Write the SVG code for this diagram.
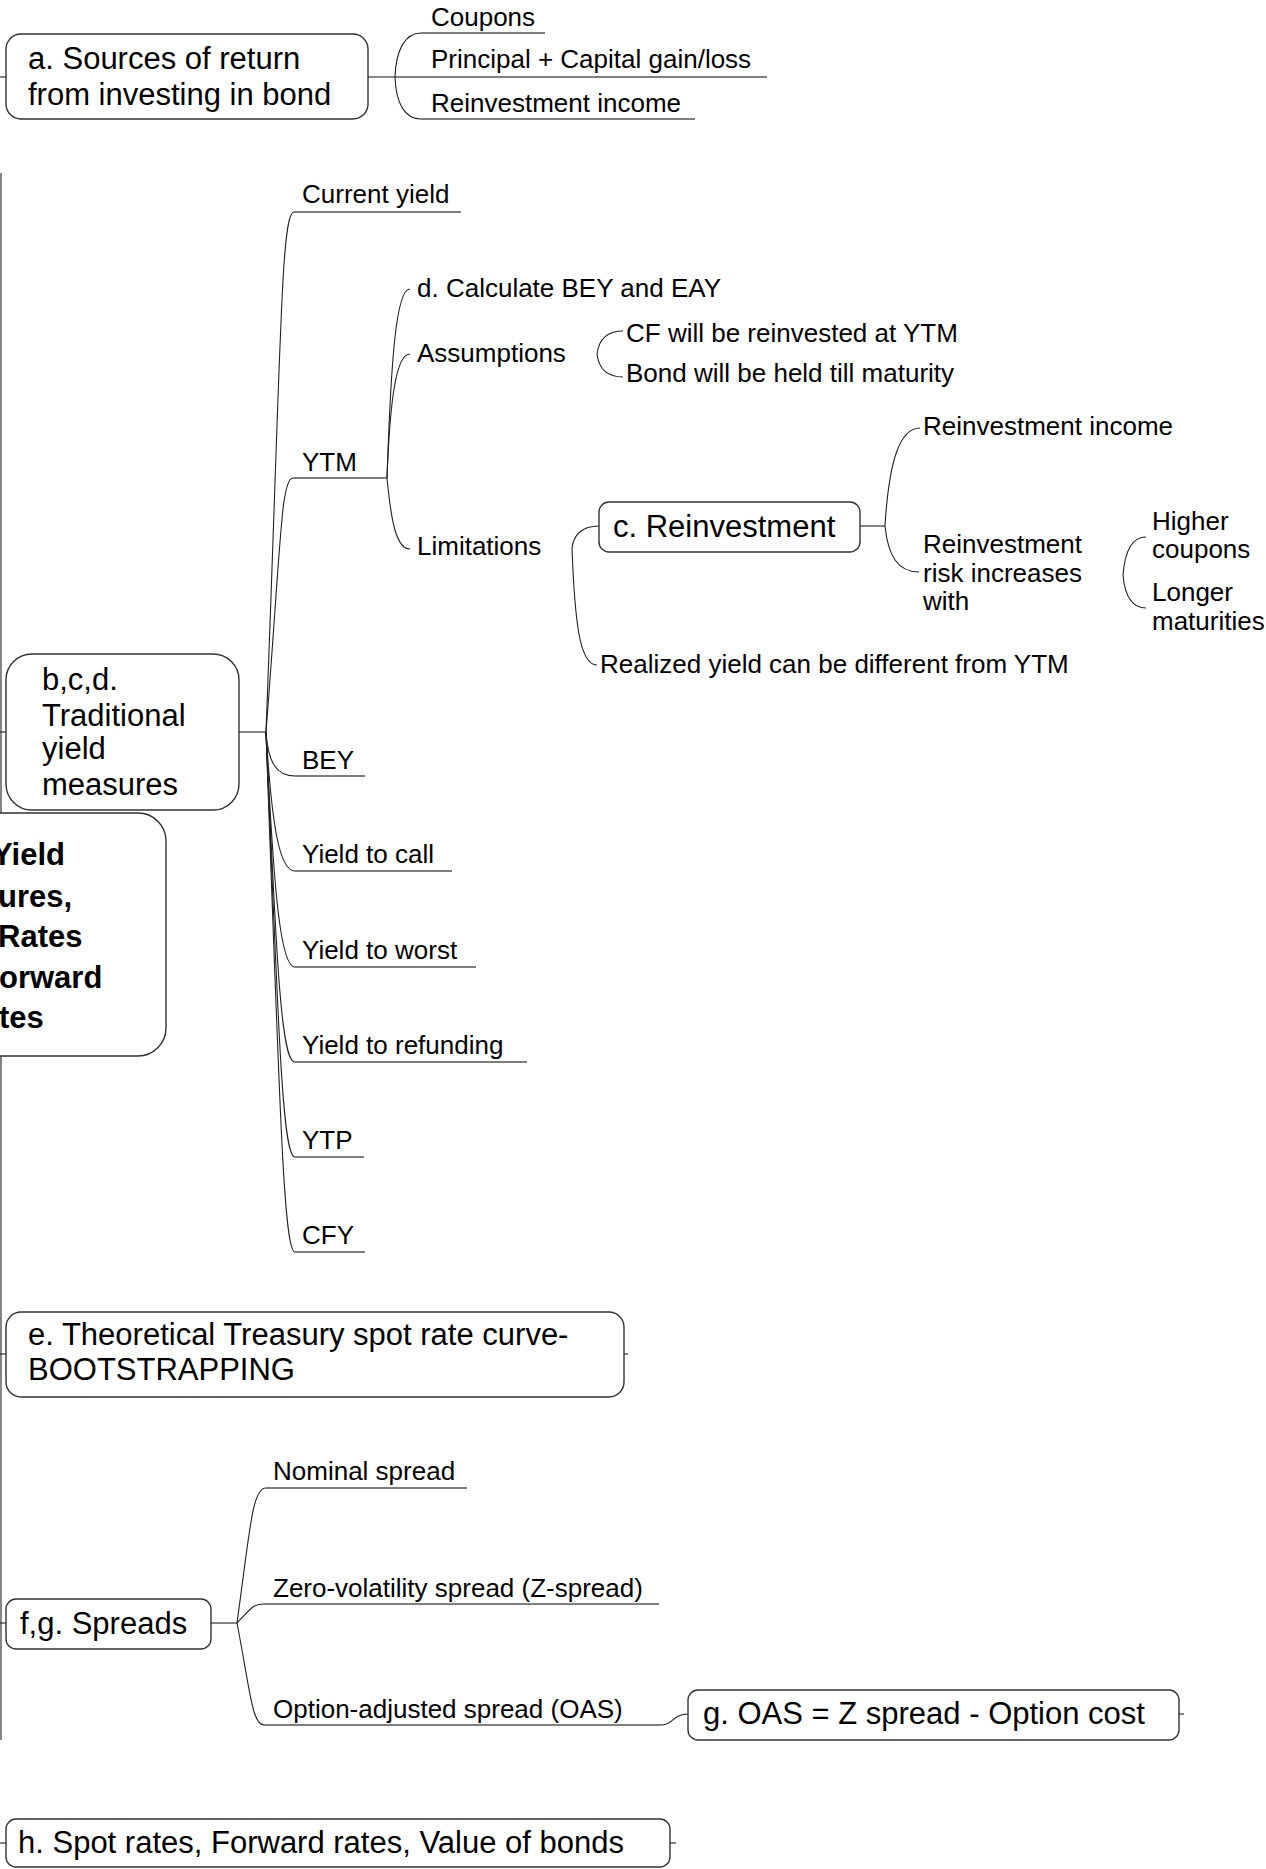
<svg xmlns="http://www.w3.org/2000/svg" width="1266" height="1869" viewBox="0 0 1266 1869">
<style>
  .box { fill: #ffffff; stroke: #333333; stroke-width: 1.4; }
  .ln { fill: none; stroke: #222222; stroke-width: 1.1; }
  .ul { fill: none; stroke: #555555; stroke-width: 1.4; }
  .t { font-family: "Liberation Sans", Arial, sans-serif; font-size: 26px; fill: #000000; }
  .n { font-family: "Liberation Sans", Arial, sans-serif; font-size: 31px; fill: #000000; }
  .c { font-family: "Liberation Sans", Arial, sans-serif; font-size: 31px; font-weight: bold; fill: #000000; }
</style>
<rect x="0" y="0" width="1266" height="1869" fill="#ffffff"/>

<g id="connectors">
  <!-- trunk from central topic -->
  <path class="ln" d="M1,173 L1,813"/>
  <path class="ln" d="M1,1056 L1,1740"/>
  <path class="ln" d="M0,77 L6,77"/>
  <path class="ln" d="M0,732 L6,732"/>
  <path class="ln" d="M0,1354 L6,1354"/>
  <path class="ln" d="M0,1623 L6,1623"/>
  <path class="ln" d="M0,1843 L6,1843"/>

  <!-- a. Sources of return -->
  <path class="ln" d="M368,77 L395,77"/>
  <path class="ln" d="M395,77 C396,50 405,33 421,33"/>
  <path class="ul" d="M421,33 L545,33"/>
  <path class="ul" d="M395,77 L767,77"/>
  <path class="ln" d="M395,77 C396,104 405,119 421,119"/>
  <path class="ul" d="M421,119 L695,119"/>

  <!-- b,c,d. Traditional yield measures -->
  <path class="ln" d="M239,732 L266,732"/>
  <path class="ln" d="M266,732 C281,342 281,212 294,212"/>
  <path class="ul" d="M294,212 L461,212"/>
  <path class="ln" d="M266,732 C281,541 281,478 293,478"/>
  <path class="ul" d="M293,478 L387,478"/>
  <path class="ln" d="M266,732 C268,762 276,776 295,776"/>
  <path class="ul" d="M295,776 L365,776"/>
  <path class="ln" d="M266,732 C272,830 280,871 295,871"/>
  <path class="ul" d="M295,871 L452,871"/>
  <path class="ln" d="M266,732 C274,900 281,967 295,967"/>
  <path class="ul" d="M295,967 L476,967"/>
  <path class="ln" d="M266,732 C277,980 282,1062 295,1062"/>
  <path class="ul" d="M295,1062 L527,1062"/>
  <path class="ln" d="M266,732 C279,1050 283,1157 295,1157"/>
  <path class="ul" d="M295,1157 L364,1157"/>
  <path class="ln" d="M266,732 C280,1120 284,1252 295,1252"/>
  <path class="ul" d="M295,1252 L365,1252"/>

  <!-- YTM children -->
  <path class="ln" d="M387,478 C391,360 396,289 410,289"/>
  <path class="ln" d="M387,478 C390,400 396,354 410,354"/>
  <path class="ln" d="M387,478 C391,520 396,549 410,549"/>

  <!-- Assumptions children -->
  <path class="ln" d="M597,354 C599,338 608,331 623,331"/>
  <path class="ln" d="M597,354 C599,370 608,377 623,377"/>

  <!-- Limitations children -->
  <path class="ln" d="M572,549 C573,535 582,526 599,526"/>
  <path class="ln" d="M572,549 C575,625 580,665 597,665"/>

  <!-- c. Reinvestment children -->
  <path class="ln" d="M860,526 L885,526"/>
  <path class="ln" d="M885,526 C889,460 900,428 920,428"/>
  <path class="ln" d="M885,526 C888,556 898,572 919,572"/>
  <path class="ln" d="M1123,575 C1125,550 1133,537 1146,537"/>
  <path class="ln" d="M1123,575 C1125,598 1133,608 1146,608"/>

  <!-- e. stub -->
  <path class="ln" d="M624,1354 L628,1354"/>

  <!-- f,g. Spreads -->
  <path class="ln" d="M211,1623 L237,1623"/>
  <path class="ln" d="M237,1623 C250,1530 252,1488 266,1488"/>
  <path class="ul" d="M266,1488 L467,1488"/>
  <path class="ln" d="M237,1623 C250,1610 252,1604 264,1604"/>
  <path class="ul" d="M264,1604 L659,1604"/>
  <path class="ln" d="M237,1623 C250,1690 252,1725 264,1725"/>
  <path class="ul" d="M264,1725 L661,1725"/>
  <path class="ln" d="M661,1725 C674,1725 672,1714 688,1714"/>
  <path class="ln" d="M1179,1714 L1184,1714"/>

  <!-- h. stub -->
  <path class="ln" d="M670,1843 L676,1843"/>
</g>

<g id="central">
  <rect class="box" x="-300" y="813" width="466" height="243" rx="28" ry="28"/>
  <text class="c" x="-8" y="865">Yield</text>
  <text class="c" x="-2" y="907">ures,</text>
  <text class="c" x="-2" y="947">Rates</text>
  <text class="c" x="-1" y="988">orward</text>
  <text class="c" x="-1" y="1028">tes</text>
</g>

<g id="node-a">
  <rect class="box" x="6" y="34" width="362" height="85" rx="15" ry="15"/>
  <text class="n" x="28" y="69">a. Sources of return</text>
  <text class="n" x="28" y="105">from investing in bond</text>
</g>
<g id="leaf-coupons"><text class="t" x="431" y="26">Coupons</text></g>
<g id="leaf-principal"><text class="t" x="431" y="68">Principal + Capital gain/loss</text></g>
<g id="leaf-reinv-income-a"><text class="t" x="431" y="112">Reinvestment income</text></g>

<g id="node-bcd">
  <rect class="box" x="6" y="654" width="233" height="156" rx="26" ry="26"/>
  <text class="n" x="42" y="690">b,c,d.</text>
  <text class="n" x="42" y="726">Traditional</text>
  <text class="n" x="42" y="759">yield</text>
  <text class="n" x="42" y="795">measures</text>
</g>
<g id="leaf-current-yield"><text class="t" x="302" y="203">Current yield</text></g>
<g id="leaf-ytm"><text class="t" x="302" y="471">YTM</text></g>
<g id="leaf-bey"><text class="t" x="302" y="769">BEY</text></g>
<g id="leaf-ytc"><text class="t" x="302" y="863">Yield to call</text></g>
<g id="leaf-ytw"><text class="t" x="302" y="959">Yield to worst</text></g>
<g id="leaf-ytr"><text class="t" x="302" y="1054">Yield to refunding</text></g>
<g id="leaf-ytp"><text class="t" x="302" y="1149">YTP</text></g>
<g id="leaf-cfy"><text class="t" x="302" y="1244">CFY</text></g>

<g id="leaf-calc"><text class="t" x="417" y="297">d. Calculate BEY and EAY</text></g>
<g id="leaf-assumptions"><text class="t" x="417" y="362">Assumptions</text></g>
<g id="leaf-cf"><text class="t" x="626" y="342">CF will be reinvested at YTM</text></g>
<g id="leaf-held"><text class="t" x="626" y="382">Bond will be held till maturity</text></g>
<g id="leaf-limitations"><text class="t" x="417" y="555">Limitations</text></g>

<g id="node-c">
  <rect class="box" x="599" y="502" width="261" height="50" rx="10" ry="10"/>
  <text class="n" x="613" y="537">c. Reinvestment</text>
</g>
<g id="leaf-reinv-income-c"><text class="t" x="923" y="435">Reinvestment income</text></g>
<g id="leaf-reinv-risk">
  <text class="t" x="923" y="553">Reinvestment</text>
  <text class="t" x="923" y="582">risk increases</text>
  <text class="t" x="923" y="610">with</text>
</g>
<g id="leaf-higher">
  <text class="t" x="1152" y="530">Higher</text>
  <text class="t" x="1152" y="558">coupons</text>
</g>
<g id="leaf-longer">
  <text class="t" x="1152" y="601">Longer</text>
  <text class="t" x="1152" y="630">maturities</text>
</g>
<g id="leaf-realized"><text class="t" x="600" y="673">Realized yield can be different from YTM</text></g>

<g id="node-e">
  <rect class="box" x="6" y="1312" width="618" height="85" rx="15" ry="15"/>
  <text class="n" x="28" y="1345">e. Theoretical Treasury spot rate curve-</text>
  <text class="n" x="28" y="1380">BOOTSTRAPPING</text>
</g>

<g id="node-fg">
  <rect class="box" x="6" y="1599" width="205" height="50" rx="10" ry="10"/>
  <text class="n" x="20" y="1634">f,g. Spreads</text>
</g>
<g id="leaf-nominal"><text class="t" x="273" y="1480">Nominal spread</text></g>
<g id="leaf-zspread"><text class="t" x="273" y="1597">Zero-volatility spread (Z-spread)</text></g>
<g id="leaf-oas"><text class="t" x="273" y="1718">Option-adjusted spread (OAS)</text></g>

<g id="node-g">
  <rect class="box" x="688" y="1690" width="491" height="50" rx="10" ry="10"/>
  <text class="n" x="703" y="1724">g. OAS = Z spread - Option cost</text>
</g>

<g id="node-h">
  <rect class="box" x="6" y="1819" width="664" height="48" rx="10" ry="10"/>
  <text class="n" x="18" y="1853">h. Spot rates, Forward rates, Value of bonds</text>
</g>
</svg>
